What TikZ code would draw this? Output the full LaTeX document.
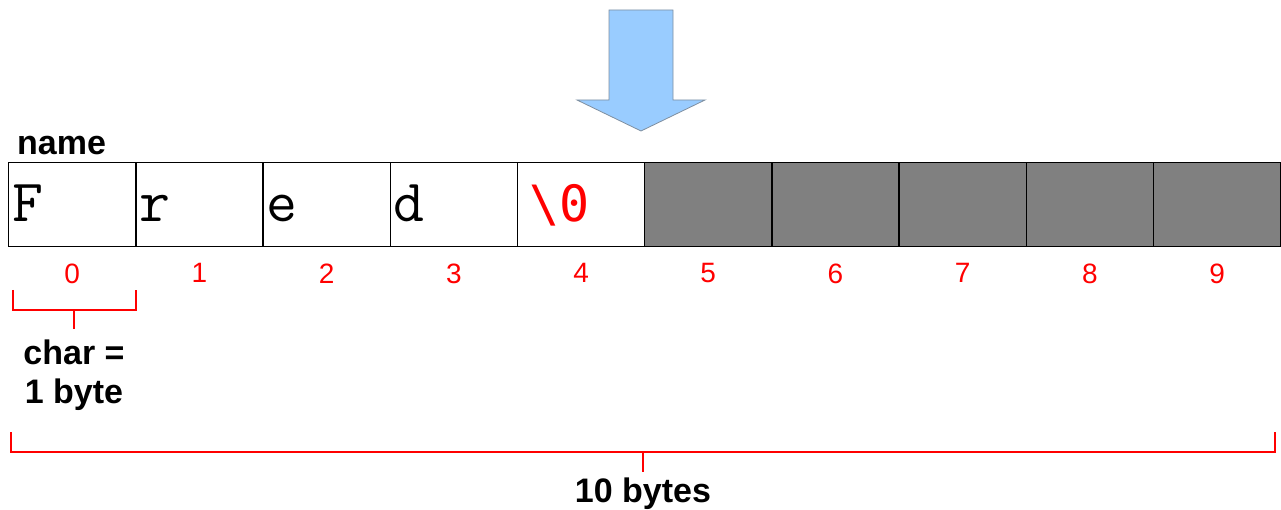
\documentclass[tikz,border=0pt]{standalone}
\usepackage{fontspec}
\setmainfont{Liberation Sans}
\newfontfamily\zerofont{DejaVu Sans Mono}
\usetikzlibrary{positioning}
\definecolor{arrowFill}{HTML}{99CCFF}
\definecolor{arrowEdge}{HTML}{7F8FA0}
\definecolor{unusedCell}{HTML}{808080}
\colorlet{braceLine}{red}
\colorlet{indexText}{red}

\begin{document}
\begin{tikzpicture}[
  x=1pt, y=-1pt,
  memcell/.style={
    draw=black,
    line width=1.3pt,
    anchor=north west,
    minimum width=127.2pt,
    minimum height=84pt,
    inner sep=0pt,
  },
  unused/.style={
    fill=unusedCell,
  },
  charText/.style={
    font=\ttfamily\fontsize{60}{60}\selectfont,
    inner sep=0pt,
    anchor=base west,
  },
  nulText/.style={
    font=\zerofont\fontsize{50}{50}\selectfont,
    text=red,
    inner sep=0pt,
    anchor=base west,
  },
  index/.style={
    font=\fontsize{28}{28}\selectfont,
    text=indexText,
    inner sep=0pt,
  },
  boldtext/.style={
    font=\fontsize{34}{39}\selectfont\bfseries,
    inner sep=0pt,
  },
  brace/.style={
    draw=braceLine,
    line width=2.8pt,
  }
]
\useasboundingbox (0,0) rectangle (1281,510);

% the array
\foreach \k in {0,...,9} {
  \node[memcell] (c\k) at ({8+127.2*\k},162) {};
  \node[index,below=16pt of c\k.south,anchor=north] (i\k) {\k};
}
\foreach \k in {5,...,9} {
  \node[memcell,unused] at (c\k.north west) {};
}
\foreach \k/\ch in {0/F,1/r,2/e,3/d} {
  \node[charText] (ch\k) at ([xshift=4pt,yshift=-60pt]c\k.north west) {\ch};
}
\node[nulText] (ch4) at ([xshift=12pt,yshift=-60pt]c4.north west) {\textbackslash0};
\node[boldtext,above right=7pt and 9pt of c0.north west,anchor=south west] (name) {name};

% pointer arrow
\fill[arrowFill,draw=arrowEdge,line width=0.8pt]
  (609,10) -- (673,10) -- (673,100) -- (705,100) -- (641,131)
  -- (577,100) -- (609,100) -- cycle;

% one char
\coordinate (sbL) at (13,290);
\coordinate (sbR) at (136,290);
\coordinate (sbMid) at (74,310);
\coordinate (sbTip) at (74,329);
\draw[brace] (sbL) |- (sbR |- sbMid) -- (sbR);
\draw[brace] (sbMid) -- (sbTip);
\node[boldtext,align=center,below=11pt of sbTip] (charSize) {char =\\1 byte};

% whole array
\coordinate (bbL) at (11,432);
\coordinate (bbR) at (1275,432);
\coordinate (bbMid) at (643,452);
\coordinate (bbTip) at (643,472);
\draw[brace] (bbL) |- (bbR |- bbMid) -- (bbR);
\draw[brace] (bbMid) -- (bbTip);
\node[boldtext,below=6pt of bbTip] (arraySize) {10 bytes};
\end{tikzpicture}
\end{document}
